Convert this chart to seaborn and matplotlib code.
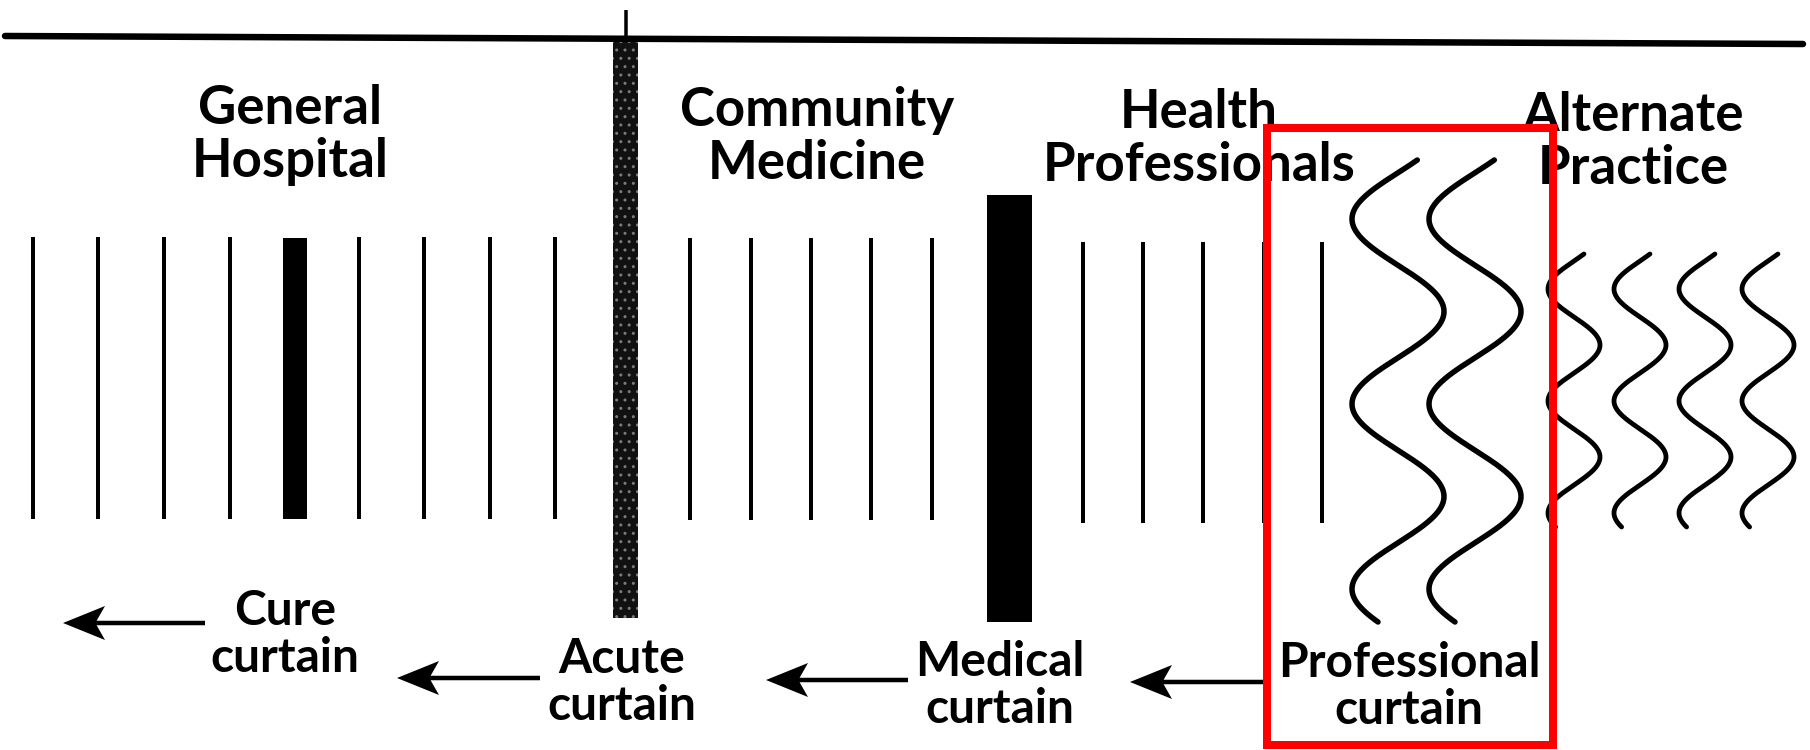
import numpy as np
import matplotlib
matplotlib.use("Agg")
import matplotlib.pyplot as plt
import seaborn as sns
from matplotlib.patches import Rectangle

sns.set_theme(style="white")
plt.rcParams['font.family'] = ['Lato', 'DejaVu Sans']

# ---------------- data (pixel space of the diagram) ----------------
top_rule_x = [5, 1803]
top_rule_y = [36, 44]
tick_x = 626
tick_y = [10, 37]

hospital_lines_x = [33, 98, 164, 230, 359, 424, 490, 555]
community_lines_x = [690, 751, 811, 871, 932]
health_lines_x = [1083, 1143, 1203, 1264, 1322]
group_line_top = [237, 238, 242]
group_line_bottom = [519, 520, 523]

curtain_bar_left = [283, 613, 987]
curtain_bar_width = [24, 25, 45]
curtain_bar_top = [238, 38, 195]
curtain_bar_bottom = [519, 618, 622]
curtain_bar_stipple = [False, True, False]

prof_wave_centers = [1398, 1475]
prof_wave_amp = 46
prof_wave_period = 185
prof_wave_first_min = 219
prof_wave_span = [160, 622]

alt_wave_centers = [1574, 1640, 1705, 1768]
alt_wave_amp = 26
alt_wave_period = 112
alt_wave_first_min = 289
alt_wave_span = [254, 527]

group_titles = ["General\nHospital", "Community\nMedicine",
                "Health\nProfessionals", "Alternate\nPractice"]
group_title_x = [290, 817, 1199, 1633]
group_title_y = [177, 179, 181, 184]     # baseline of the last line

curtain_labels = ["Cure\ncurtain", "Acute\ncurtain", "Medical\ncurtain",
                  "Professional\ncurtain"]
curtain_label_x = [285, 622, 1000, 1409]
curtain_label_y = [672, 720, 723, 724]   # baseline of the last line

arrow_tip_x = [63, 397, 766, 1130]
arrow_tail_x = [205, 540, 908, 1271]
arrow_y = [623, 678, 680, 682]

highlight_box = [1267, 128, 1553, 745]

# ---------------- figure ----------------
W, H = 1810, 750
fig = plt.figure(figsize=(W / 100, H / 100), dpi=100)
ax = fig.add_axes([0, 0, 1, 1])
ax.set_xlim(0, W)
ax.set_ylim(H, 0)
ax.axis("off")

px = 0.72  # points per pixel at dpi 100

# top rule and tick
sns.lineplot(x=top_rule_x, y=top_rule_y, color="black", lw=6.5 * px,
             estimator=None, sort=False, ax=ax)
ax.plot([tick_x, tick_x], tick_y, color="black", lw=3.5 * px, solid_capstyle="butt")

# thin vertical lines
for xs, t, b in zip([hospital_lines_x, community_lines_x, health_lines_x],
                    group_line_top, group_line_bottom):
    ax.vlines(xs, t, b, color="black", lw=4 * px)

# thick curtains
for left, w, t, b, st in zip(curtain_bar_left, curtain_bar_width,
                             curtain_bar_top, curtain_bar_bottom,
                             curtain_bar_stipple):
    if st:
        ax.bar(left, b - t, bottom=t, width=w, align="edge",
               color="#111111", edgecolor="#7a7a7a", hatch="..", lw=0)
    else:
        ax.bar(left, b - t, bottom=t, width=w, align="edge",
               color="black", lw=0)

# wavy curtains
def wave(center, amp, period, first_min, span):
    y = np.linspace(span[0], span[1], 400)
    x = center - amp * np.cos(2 * np.pi * (y - first_min) / period)
    return x, y

for c in prof_wave_centers:
    x, y = wave(c, prof_wave_amp, prof_wave_period, prof_wave_first_min, prof_wave_span)
    sns.lineplot(x=x, y=y, sort=False, estimator=None, color="black",
                 lw=5.5 * px, ax=ax)
for c in alt_wave_centers:
    x, y = wave(c, alt_wave_amp, alt_wave_period, alt_wave_first_min, alt_wave_span)
    sns.lineplot(x=x, y=y, sort=False, estimator=None, color="black",
                 lw=4.8 * px, ax=ax)

# titles
for s, x, y in zip(group_titles, group_title_x, group_title_y):
    ax.text(x, y, s, ha="center", va="baseline", fontsize=38,
            fontweight="bold", color="black", linespacing=1.1,
            multialignment="center")

for s, x, y in zip(curtain_labels, curtain_label_x, curtain_label_y):
    ax.text(x, y, s, ha="center", va="baseline", fontsize=34.5,
            fontweight="bold", color="black", linespacing=1.08,
            multialignment="center")

# arrows
for tip, tail, y in zip(arrow_tip_x, arrow_tail_x, arrow_y):
    ax.arrow(tail, y, tip - tail, 0, width=4.5, head_width=34, head_length=42,
             length_includes_head=True, overhang=0.2, fc="black",
             ec="black", lw=0)

# highlight box
x0, y0, x1, y1 = highlight_box
ax.add_patch(Rectangle((x0, y0), x1 - x0, y1 - y0, fill=False,
                       edgecolor="#ff0000", lw=8 * px, zorder=10))

fig.savefig("out.png", dpi=100)
